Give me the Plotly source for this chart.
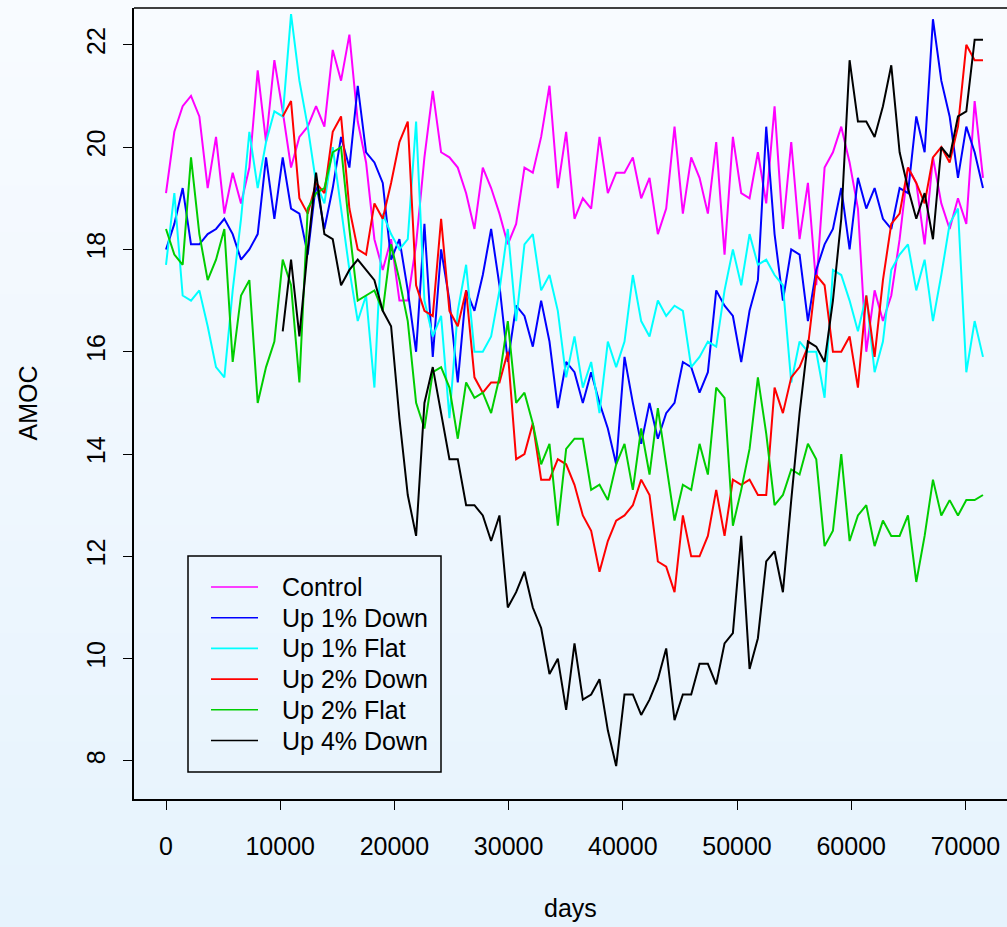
import plotly.graph_objects as go

# Simulation time axis (days), one sample every two model years
STEP_DAYS = 730
days = [STEP_DAYS * i for i in range(99)]
days_late = days[14:]  # the 2% and 4% runs start later

control = [19.1, 20.3, 20.8, 21.0, 20.6, 19.2, 20.2, 18.7, 19.5, 18.9,
           19.6, 21.5, 20.1, 21.7, 20.7, 19.6, 20.2, 20.4, 20.8, 20.4,
           21.9, 21.3, 22.2, 20.5, 19.7, 18.2, 17.6, 18.2, 17.0, 17.0,
           18.1, 19.8, 21.1, 19.9, 19.8, 19.6, 19.1, 18.4, 19.6, 19.2,
           18.7, 18.1, 18.5, 19.6, 19.5, 20.2, 21.2, 19.2, 20.3, 18.6,
           19.0, 18.8, 20.2, 19.1, 19.5, 19.5, 19.8, 19.0, 19.4, 18.3,
           18.8, 20.4, 18.7, 19.8, 19.4, 18.7, 20.1, 17.9, 20.2, 19.1,
           19.0, 19.9, 18.9, 20.8, 18.4, 20.1, 18.2, 19.3, 17.3, 19.6,
           19.9, 20.4, 19.7, 18.8, 16.0, 17.2, 16.6, 17.1, 18.2, 19.6,
           19.3, 18.1, 19.8, 18.9, 18.4, 19.0, 18.5, 20.9, 19.4]

up1_down = [18.0, 18.5, 19.2, 18.1, 18.1, 18.3, 18.4, 18.6, 18.3, 17.8,
            18.0, 18.3, 19.8, 18.6, 19.8, 18.8, 18.7, 17.9, 19.3, 18.4,
            19.2, 20.2, 19.6, 21.2, 19.9, 19.7, 19.3, 17.8, 18.2, 17.2,
            16.0, 18.5, 15.9, 18.0, 17.0, 15.4, 17.2, 16.8, 17.5, 18.4,
            17.3, 15.8, 16.9, 16.7, 16.1, 17.0, 16.2, 14.9, 15.8, 15.6,
            15.0, 15.6, 15.0, 14.5, 13.8, 15.9, 15.0, 14.2, 15.0, 14.3,
            14.8, 15.0, 15.8, 15.7, 15.2, 15.6, 17.2, 16.9, 16.7, 15.8,
            16.8, 17.4, 20.4, 18.3, 17.0, 18.0, 17.9, 16.6, 17.6, 18.1,
            18.4, 19.2, 18.0, 19.4, 18.8, 19.2, 18.6, 18.4, 19.2, 19.1,
            20.6, 19.9, 22.5, 21.3, 20.6, 19.4, 20.4, 19.9, 19.2]

up1_flat = [17.7, 19.1, 17.1, 17.0, 17.2, 16.5, 15.7, 15.5, 17.2, 18.6,
            20.3, 19.2, 20.1, 20.7, 20.6, 22.6, 21.3, 20.4, 19.3, 18.9,
            20.0, 18.8, 17.6, 16.6, 17.1, 15.3, 18.7, 18.3, 18.0, 18.2,
            20.5, 17.0, 16.3, 16.7, 14.7, 16.8, 17.7, 16.0, 16.0, 16.3,
            17.2, 18.4, 16.6, 18.1, 18.3, 17.2, 17.5, 16.8, 15.5, 16.3,
            15.3, 15.8, 14.8, 16.2, 15.7, 16.2, 17.5, 16.6, 16.3, 17.0,
            16.7, 16.9, 16.8, 15.7, 15.9, 16.2, 16.1, 17.2, 18.0, 17.3,
            18.3, 17.7, 17.8, 17.5, 17.3, 15.4, 16.2, 16.0, 16.0, 15.1,
            17.6, 17.5, 17.0, 16.4, 17.1, 15.6, 16.2, 17.6, 17.9, 18.1,
            17.2, 17.8, 16.6, 17.5, 18.5, 18.8, 15.6, 16.6, 15.9]

up2_down = [20.6, 20.9, 19.0, 18.7, 19.3, 19.1, 20.3, 20.6, 18.8, 18.0,
            17.9, 18.9, 18.6, 19.3, 20.1, 20.5, 17.3, 16.8, 16.7, 18.6,
            16.8, 16.5, 17.2, 15.5, 15.2, 15.4, 15.4, 16.0, 13.9, 14.0,
            14.6, 13.5, 13.5, 13.9, 13.8, 13.4, 12.8, 12.5, 11.7, 12.3,
            12.7, 12.8, 13.0, 13.5, 13.2, 11.9, 11.8, 11.3, 12.8, 12.0,
            12.0, 12.4, 13.3, 12.4, 13.5, 13.4, 13.5, 13.2, 13.2, 15.3,
            14.8, 15.5, 15.7, 16.1, 17.5, 17.3, 16.0, 16.0, 16.3, 15.3,
            17.1, 15.9, 17.4, 18.5, 18.7, 19.6, 19.3, 18.9, 19.8, 20.0,
            19.7, 20.4, 22.0, 21.7, 21.7]

up2_flat = [18.4, 17.9, 17.7, 19.8, 18.3, 17.4, 17.8, 18.4, 15.8, 17.1,
            17.4, 15.0, 15.7, 16.2, 17.8, 17.3, 15.4, 18.8, 19.1, 19.2,
            19.9, 20.0, 18.4, 17.0, 17.1, 17.2, 16.8, 18.1, 17.4, 16.6,
            15.0, 14.5, 15.6, 15.7, 15.3, 14.3, 15.4, 15.1, 15.2, 14.8,
            15.5, 16.6, 15.0, 15.2, 14.6, 13.8, 14.2, 12.6, 14.1, 14.3,
            14.3, 13.3, 13.4, 13.1, 13.8, 14.2, 13.3, 14.5, 13.6, 14.9,
            13.8, 12.7, 13.4, 13.3, 14.2, 13.6, 15.3, 15.1, 12.6, 13.3,
            14.1, 15.5, 14.4, 13.0, 13.2, 13.7, 13.6, 14.2, 13.9, 12.2,
            12.5, 14.0, 12.3, 12.8, 13.0, 12.2, 12.7, 12.4, 12.4, 12.8,
            11.5, 12.4, 13.5, 12.8, 13.1, 12.8, 13.1, 13.1, 13.2]

up4_down = [16.4, 17.8, 16.3, 18.0, 19.5, 18.3, 18.2, 17.3, 17.6, 17.8,
            17.6, 17.4, 16.8, 16.5, 14.7, 13.2, 12.4, 15.0, 15.7, 14.8,
            13.9, 13.9, 13.0, 13.0, 12.8, 12.3, 12.8, 11.0, 11.3, 11.7,
            11.0, 10.6, 9.7, 10.0, 9.0, 10.3, 9.2, 9.3, 9.6, 8.6,
            7.9, 9.3, 9.3, 8.9, 9.2, 9.6, 10.2, 8.8, 9.3, 9.3,
            9.9, 9.9, 9.5, 10.3, 10.5, 12.4, 9.8, 10.4, 11.9, 12.1,
            11.3, 13.1, 14.8, 16.2, 16.1, 15.8, 17.0, 18.6, 21.7, 20.5,
            20.5, 20.2, 20.8, 21.6, 19.9, 19.2, 18.6, 19.1, 18.2, 20.0,
            19.8, 20.6, 20.7, 22.1, 22.1]

x_ticks = [0, 10000, 20000, 30000, 40000, 50000, 60000, 70000]
y_ticks = [8, 10, 12, 14, 16, 18, 20, 22]

series = [
    ("Control", days, control, "#ff00ff"),
    ("Up 1% Down", days, up1_down, "#0000ff"),
    ("Up 1% Flat", days, up1_flat, "#00ffff"),
    ("Up 2% Down", days_late, up2_down, "#ff0000"),
    ("Up 2% Flat", days, up2_flat, "#00cd00"),
    ("Up 4% Down", days_late, up4_down, "#000000"),
]

FONT = "Liberation Sans, Arial, Helvetica, sans-serif"

# plot box in pixels: left 134, top 8, bottom 799, right edge of page
PX_L, PX_T, PX_B, PX_R = 134, 8, 799, 1007
PW, PH = PX_R - PX_L, PX_B - PX_T


def px_x(px):
    return (px - PX_L) / PW


def px_y(py):
    return (PX_B - py) / PH


fig = go.Figure()
for name, xs, ys, color in series:
    fig.add_trace(go.Scatter(x=xs, y=ys, mode="lines", name=name,
                             showlegend=False,
                             line=dict(color=color, width=2)))

# vertical white-to-pale-blue wash behind the whole page
shapes = []
n_bands = 60
top_rgb = (248, 251, 255)
bot_rgb = (230, 243, 253)
y_lo, y_hi = px_y(927), px_y(0)
for k in range(n_bands):
    t = k / (n_bands - 1)
    r = round(bot_rgb[0] + (top_rgb[0] - bot_rgb[0]) * t)
    g = round(bot_rgb[1] + (top_rgb[1] - bot_rgb[1]) * t)
    b = round(bot_rgb[2] + (top_rgb[2] - bot_rgb[2]) * t)
    y0 = y_lo + (y_hi - y_lo) * k / n_bands
    y1 = y_lo + (y_hi - y_lo) * (k + 1.05) / n_bands
    shapes.append(dict(type="rect", xref="paper", yref="paper",
                       x0=-0.2, x1=1.05, y0=y0, y1=y1, layer="below",
                       line=dict(width=0), fillcolor=f"rgb({r},{g},{b})"))

# top edge of the plot box
shapes.append(dict(type="line", xref="paper", yref="paper",
                   x0=0, x1=1.01, y0=1, y1=1,
                   line=dict(color="black", width=1.5)))

# legend: frame, line keys and labels
annotations = []
shapes.append(dict(type="rect", xref="paper", yref="paper",
                   x0=px_x(188), x1=px_x(441), y0=px_y(772), y1=px_y(556),
                   line=dict(color="black", width=1.5)))
row0, row_gap = 587, 30.7
for k, (name, _, _, color) in enumerate(series):
    ry = row0 + k * row_gap
    shapes.append(dict(type="line", xref="paper", yref="paper",
                       x0=px_x(211), x1=px_x(258), y0=px_y(ry), y1=px_y(ry),
                       line=dict(color=color, width=1.6)))
    annotations.append(dict(text=name, xref="paper", yref="paper",
                            x=px_x(280), y=px_y(ry), showarrow=False,
                            xanchor="left", yanchor="middle",
                            font=dict(family=FONT, size=25, color="black")))

annotations += [
    dict(text="days", xref="paper", yref="paper", x=0.5, y=px_y(908),
         showarrow=False, xanchor="center", yanchor="middle",
         font=dict(family=FONT, size=25, color="black")),
    dict(text="AMOC", xref="paper", yref="paper", x=px_x(27), y=0.5,
         showarrow=False, xanchor="center", yanchor="middle", textangle=-90,
         font=dict(family=FONT, size=25, color="black")),
]

fig.update_layout(
    width=1007, height=927,
    margin=dict(l=PX_L, r=0, t=PX_T, b=927 - PX_B),
    paper_bgcolor="rgb(239,247,254)",
    plot_bgcolor="rgba(0,0,0,0)",
    font=dict(family=FONT, size=25, color="black"),
    showlegend=False,
    shapes=shapes,
    annotations=annotations,
)

fig.update_xaxes(range=[-2802, 73643], tickvals=x_ticks, tickformat="d",
                 ticks="outside", ticklen=9, tickwidth=1.2, tickcolor="black",
                 showline=True, linecolor="black", linewidth=1.5,
                 showgrid=False, zeroline=False, ticklabelstandoff=15,
                 tickfont=dict(family=FONT, size=25, color="black"))
fig.update_yaxes(range=[7.257, 22.72], tickvals=y_ticks, tickangle=-90,
                 ticks="outside", ticklen=9, tickwidth=1.2, tickcolor="black",
                 showline=True, linecolor="black", linewidth=1.5,
                 showgrid=False, zeroline=False, ticklabelstandoff=8,
                 tickfont=dict(family=FONT, size=25, color="black"))

fig.write_html("out.html")
